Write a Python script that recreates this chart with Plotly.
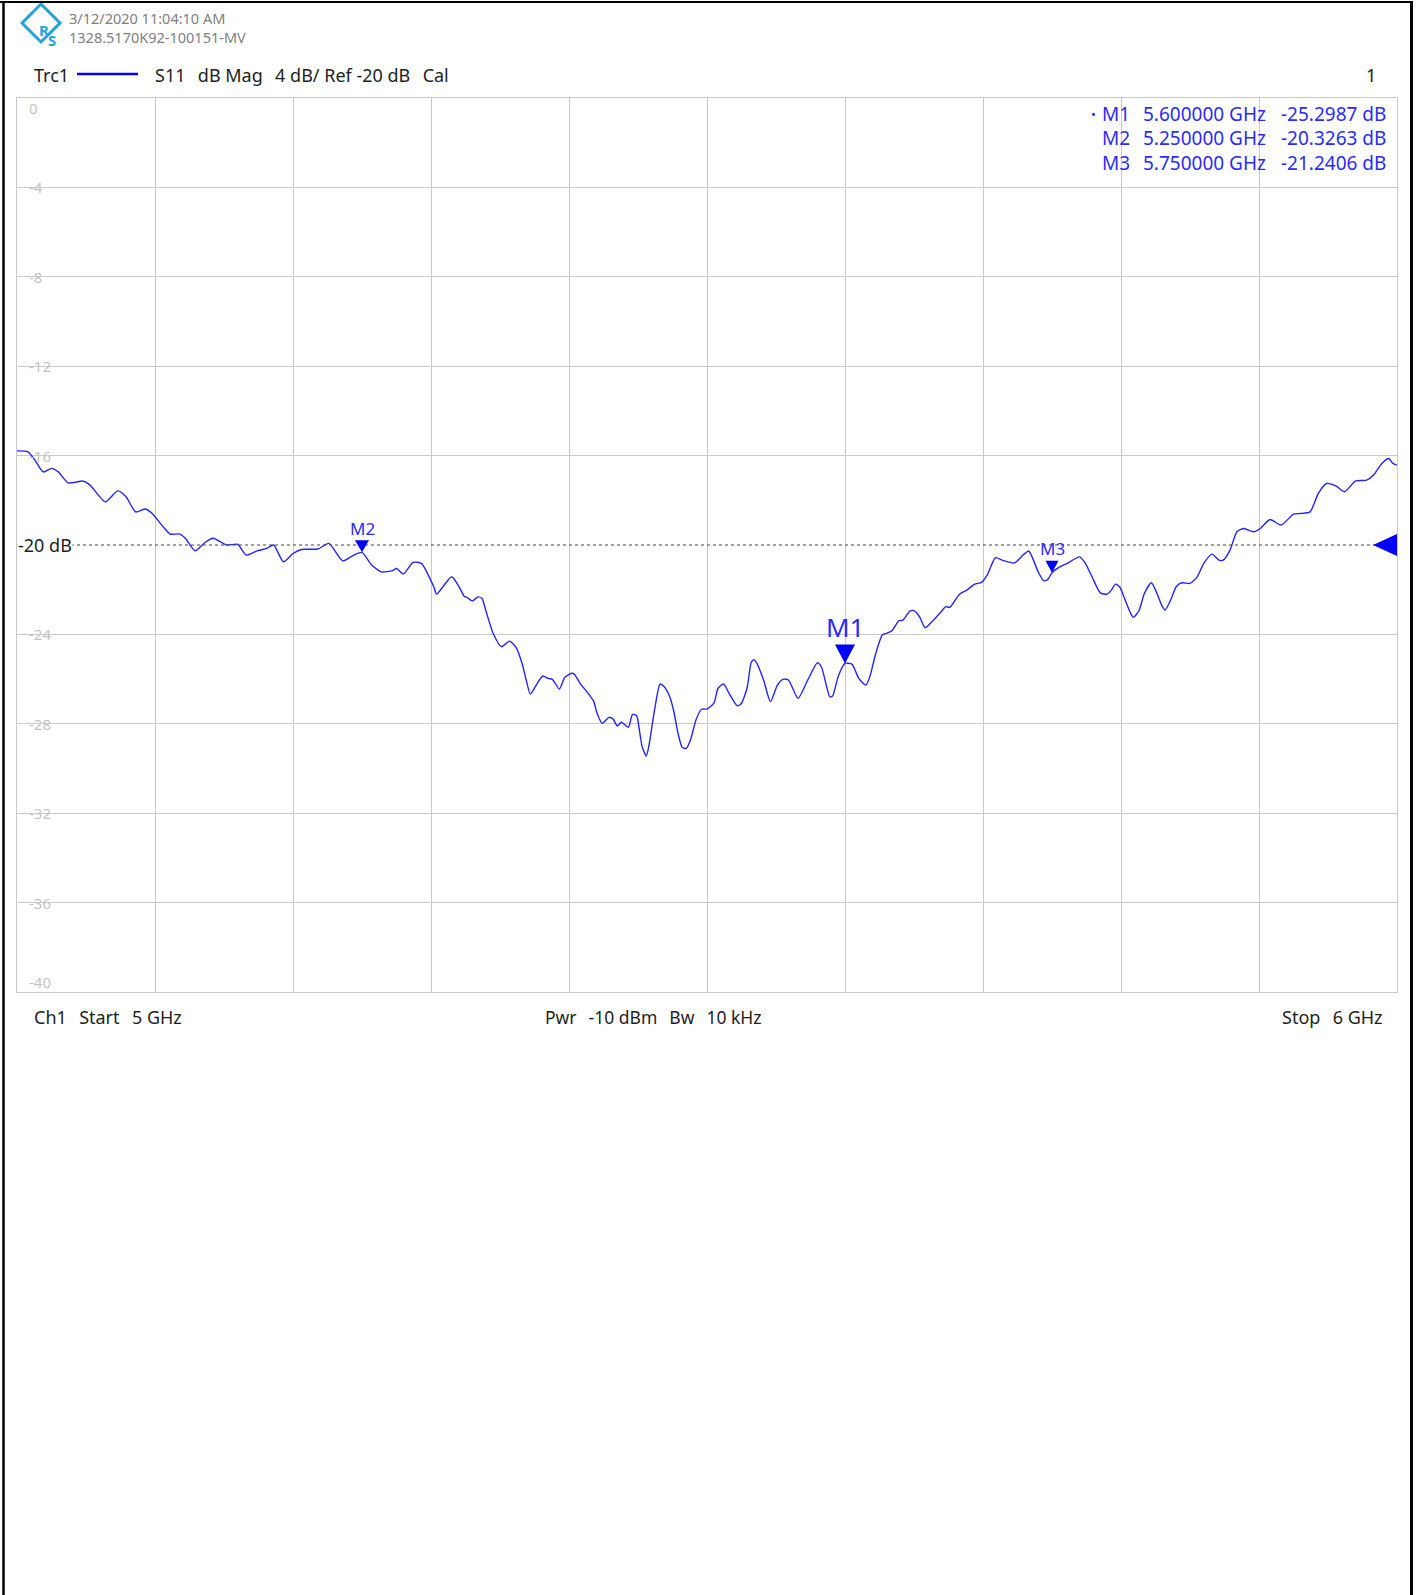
import plotly.graph_objects as go

# S11 trace
freq_ghz = [
    5.000, 5.008, 5.013, 5.019, 5.025, 5.030, 5.037, 5.048, 5.053, 5.064,
    5.073, 5.079, 5.086, 5.093, 5.098, 5.106, 5.111, 5.118, 5.122, 5.129,
    5.136, 5.142, 5.152, 5.160, 5.166, 5.174, 5.181, 5.186, 5.193, 5.200,
    5.206, 5.218, 5.226, 5.236, 5.244, 5.250, 5.257, 5.264, 5.272, 5.275,
    5.280, 5.287, 5.293, 5.302, 5.304, 5.315, 5.321, 5.324, 5.326, 5.330,
    5.334, 5.337, 5.340, 5.345, 5.351, 5.357, 5.362, 5.366, 5.369, 5.372,
    5.377, 5.381, 5.385, 5.388, 5.393, 5.397, 5.402, 5.404, 5.408, 5.413,
    5.418, 5.420, 5.424, 5.429, 5.432, 5.435, 5.438, 5.443, 5.446, 5.449,
    5.451, 5.453, 5.456, 5.458, 5.462, 5.466, 5.469, 5.473, 5.476, 5.479,
    5.482, 5.485, 5.488, 5.492, 5.496, 5.500, 5.505, 5.508, 5.512, 5.516,
    5.522, 5.525, 5.529, 5.531, 5.532, 5.534, 5.536, 5.541, 5.546, 5.551,
    5.555, 5.559, 5.566, 5.573, 5.580, 5.583, 5.589, 5.591, 5.595, 5.600,
    5.605, 5.610, 5.615, 5.618, 5.622, 5.627, 5.630, 5.634, 5.639, 5.642,
    5.647, 5.650, 5.654, 5.658, 5.663, 5.670, 5.673, 5.676, 5.683, 5.688,
    5.694, 5.699, 5.703, 5.709, 5.714, 5.723, 5.729, 5.733, 5.735, 5.740,
    5.744, 5.747, 5.750, 5.756, 5.761, 5.770, 5.774, 5.779, 5.785, 5.790,
    5.793, 5.796, 5.799, 5.803, 5.807, 5.809, 5.813, 5.817, 5.822, 5.826,
    5.830, 5.832, 5.836, 5.840, 5.844, 5.850, 5.855, 5.860, 5.866, 5.871,
    5.874, 5.879, 5.884, 5.889, 5.896, 5.901, 5.908, 5.916, 5.925, 5.930,
    5.937, 5.943, 5.949, 5.956, 5.962, 5.970, 5.978, 5.983, 5.989, 5.994,
    5.997, 6.000,
]
s11_db = [
    -15.79, -15.83, -16.20, -16.73, -16.57, -16.73, -17.22, -17.14, -17.32, -18.07,
    -17.58, -17.84, -18.52, -18.39, -18.59, -19.19, -19.51, -19.51, -19.70, -20.26,
    -19.90, -19.70, -20.00, -19.97, -20.45, -20.26, -20.15, -20.00, -20.75, -20.38,
    -20.20, -20.18, -19.93, -20.71, -20.45, -20.33, -20.90, -21.20, -21.15, -21.05,
    -21.30, -20.78, -20.82, -21.87, -22.20, -21.42, -21.94, -22.29, -22.34, -22.51,
    -22.32, -22.39, -22.99, -23.95, -24.55, -24.30, -24.62, -25.30, -26.04, -26.67,
    -26.19, -25.86, -25.97, -26.01, -26.44, -25.92, -25.74, -25.79, -26.19, -26.57,
    -27.01, -27.46, -27.98, -27.71, -27.79, -28.10, -27.93, -28.16, -27.58, -27.64,
    -28.28, -29.02, -29.44, -28.95, -27.38, -26.22, -26.34, -26.79, -27.46, -28.43,
    -29.05, -29.10, -28.73, -27.83, -27.35, -27.34, -27.08, -26.41, -26.22, -26.64,
    -27.20, -27.08, -26.41, -25.59, -25.25, -25.13, -25.27, -26.04, -27.01, -26.27,
    -26.01, -26.04, -26.86, -26.04, -25.27, -25.47, -26.79, -26.76, -25.89, -25.30,
    -25.33, -25.97, -26.27, -25.89, -24.92, -24.03, -23.95, -23.84, -23.39, -23.36,
    -22.96, -22.94, -23.21, -23.70, -23.43, -22.96, -22.76, -22.79, -22.20, -22.03,
    -21.75, -21.67, -21.35, -20.57, -20.68, -20.80, -20.45, -20.27, -20.45, -21.20,
    -21.60, -21.54, -21.24, -20.97, -20.82, -20.53, -20.80, -21.42, -22.14, -22.20,
    -22.02, -21.75, -21.87, -22.46, -23.06, -23.24, -22.94, -22.16, -21.69, -22.16,
    -22.76, -22.91, -22.46, -21.87, -21.69, -21.72, -21.45, -20.82, -20.41, -20.68,
    -20.68, -20.23, -19.41, -19.26, -19.41, -19.26, -18.86, -19.11, -18.62, -18.59,
    -18.52, -17.69, -17.25, -17.37, -17.62, -17.13, -17.10, -16.87, -16.35, -16.13,
    -16.35, -16.43,
]

marker_names = ["M1", "M2", "M3"]
marker_freq = [5.60, 5.25, 5.75]
marker_db = [-25.2987, -20.3263, -21.2406]

y_ticks = [0, -4, -8, -12, -16, -20, -24, -28, -32, -36, -40]
ref_level = -20
f_start, f_stop = 5.0, 6.0

# page geometry (pixels) -> paper coords
W, H = 1421, 1595
ML, MR, MT, MB = 17, 24, 98, 603


def px(x):
    return (x - ML) / (W - ML - MR)


def py(y):
    return (H - MB - y) / (H - MT - MB)


FONT = "Noto Sans"
BLUE = "#2424ff"
TXT_BLUE = "#2b2bff"
DARK = "#1e1e1e"
GRID = "#c9c9c9"
RS_CYAN = "#23a3dc"

fig = go.Figure()
fig.add_trace(go.Scatter(
    x=freq_ghz, y=s11_db, mode="lines",
    line=dict(color=BLUE, width=1.4, shape="spline", smoothing=0.6),
    hoverinfo="skip", showlegend=False,
))

shapes = []
annotations = []

# reference line
shapes.append(dict(type="line", xref="x", yref="y", x0=f_start, x1=f_stop,
                   y0=ref_level, y1=ref_level,
                   line=dict(color="#444444", width=1, dash="dot")))
annotations.append(dict(xref="paper", yref="y", x=0, y=ref_level, text="-20 dB",
                        showarrow=False, xanchor="left", yanchor="middle",
                        bgcolor="white", borderpad=0,
                        font=dict(family=FONT, size=18, color=DARK)))
# reference arrow at the right edge
shapes.append(dict(type="path", xref="x", yref="y", xsizemode="pixel", ysizemode="pixel",
                   xanchor=f_stop, yanchor=ref_level,
                   path="M 0 11 L 0 -11 L -24 0 Z",
                   fillcolor="#0000ff", line=dict(width=0)))

# y tick labels drawn inside the grid
TICK_FONT = dict(family=FONT, size=15, color="#c4c4c4")
for v in y_ticks:
    if v == ref_level:
        continue
    lab = str(v)
    if v == y_ticks[0]:
        annotations.append(dict(xref="paper", yref="y", x=px(27), y=v, text=lab,
                                showarrow=False, xanchor="left", yanchor="top", yshift=2,
                                font=TICK_FONT))
    elif v == y_ticks[-1]:
        annotations.append(dict(xref="paper", yref="y", x=px(27), y=v, text=lab,
                                showarrow=False, xanchor="left", yanchor="bottom", yshift=-2,
                                font=TICK_FONT))
    else:
        wpx = 8 + 8 * len(lab)
        shapes.append(dict(type="rect", xref="paper", yref="y", xsizemode="pixel",
                           ysizemode="pixel", xanchor=px(27), yanchor=v,
                           x0=0, x1=wpx, y0=-6, y1=6, layer="between",
                           fillcolor="white", line=dict(width=0)))
        annotations.append(dict(xref="paper", yref="y", x=px(27), y=v, text=lab,
                                showarrow=False, xanchor="left", yanchor="middle",
                                font=TICK_FONT))

# marker triangles and labels: half width, height, label size, label shift
tri = {"M1": (10, 19, 26, 16), "M2": (7, 12, 17, 10), "M3": (6.5, 12, 17, 11)}
for name, f, v in zip(marker_names, marker_freq, marker_db):
    hw, ht, fs, ys = tri[name]
    shapes.append(dict(type="path", xref="x", yref="y", xsizemode="pixel", ysizemode="pixel",
                       xanchor=f, yanchor=v,
                       path=f"M {-hw} {ht} L {hw} {ht} L 0 0 Z",
                       fillcolor="#0000ff", line=dict(width=0)))
    annotations.append(dict(xref="x", yref="y", x=f, y=v, text=name, showarrow=False,
                            xanchor="center", yanchor="bottom", yshift=ys,
                            font=dict(family=FONT, size=fs, color=TXT_BLUE)))

# marker readout table (top right)
row_y = [114, 138, 163]
TABLE_FONT = dict(family=FONT, size=19, color=TXT_BLUE)
for i, (name, f, v) in enumerate(zip(marker_names, marker_freq, marker_db)):
    yy = py(row_y[i])
    if i == 0:
        annotations.append(dict(xref="paper", yref="paper", x=px(1093), y=yy, text="•",
                                showarrow=False, xanchor="center", yanchor="middle",
                                font=dict(family=FONT, size=13, color=TXT_BLUE)))
    annotations.append(dict(xref="paper", yref="paper", x=px(1100), y=yy, text=name,
                            showarrow=False, xanchor="left", yanchor="middle",
                            font=TABLE_FONT))
    annotations.append(dict(xref="paper", yref="paper", x=px(1268), y=yy,
                            text=f"{f:.6f} GHz".replace(" ", "\u00a0"),
                            showarrow=False, xanchor="right", yanchor="middle",
                            font=TABLE_FONT))
    annotations.append(dict(xref="paper", yref="paper", x=px(1388), y=yy,
                            text=f"{v:.4f} dB".replace(" ", "\u00a0"),
                            showarrow=False, xanchor="right", yanchor="middle",
                            font=TABLE_FONT))

GAP = "\u00a0\u00a0\u2009"


def txt(x, y, s, size=18, color=DARK, anchor="left"):
    annotations.append(dict(xref="paper", yref="paper", x=px(x), y=py(y),
                            text=s.replace("  ", GAP), showarrow=False,
                            xanchor=anchor, yanchor="middle",
                            font=dict(family=FONT, size=size, color=color)))


# header
txt(67, 18, "3/12/2020 11:04:10 AM", size=14.5, color="#808080")
txt(67, 37, "1328.5170K92-100151-MV", size=14.5, color="#808080")
txt(32, 75, "Trc1")
shapes.append(dict(type="line", xref="paper", yref="paper", x0=px(77), x1=px(138),
                   y0=py(74), y1=py(74), line=dict(color="#0000ff", width=2.5)))
txt(153, 75, "S11  dB Mag  4 dB/ Ref -20 dB  Cal")
txt(1378, 75, "1", anchor="right")

# footer
txt(32, 1017, "Ch1  Start  5 GHz")
txt(543, 1017, "Pwr  -10 dBm  Bw  10 kHz", size=17.5)
txt(1385, 1017, "Stop  6 GHz", anchor="right")

# R&S logo
shapes.append(dict(type="path", xref="paper", yref="paper", xsizemode="pixel",
                   ysizemode="pixel", xanchor=px(41), yanchor=py(23),
                   path="M -19 0 L 0 19 L 19 0 L 0 -19 Z",
                   line=dict(color=RS_CYAN, width=3), fillcolor="rgba(0,0,0,0)"))
annotations.append(dict(xref="paper", yref="paper", x=px(37), y=py(18), text="<b>R</b>",
                        showarrow=False, font=dict(family=FONT, size=15, color=RS_CYAN)))
annotations.append(dict(xref="paper", yref="paper", x=px(46), y=py(28), text="<b>S</b>",
                        showarrow=False, font=dict(family=FONT, size=15, color=RS_CYAN)))

# page frame
shapes.append(dict(type="line", xref="paper", yref="paper", x0=px(0), x1=px(1413),
                   y0=py(2), y1=py(2), line=dict(color="black", width=2)))
shapes.append(dict(type="line", xref="paper", yref="paper", x0=px(3.5), x1=px(3.5),
                   y0=py(1), y1=py(H), line=dict(color="black", width=2.5)))
shapes.append(dict(type="line", xref="paper", yref="paper", x0=px(1411.5), x1=px(1411.5),
                   y0=py(1), y1=py(H), line=dict(color="black", width=3)))

fig.update_layout(
    width=W, height=H,
    margin=dict(l=ML, r=MR, t=MT, b=MB),
    paper_bgcolor="white", plot_bgcolor="white",
    showlegend=False,
    shapes=shapes, annotations=annotations,
    font=dict(family=FONT),
)
fig.update_xaxes(range=[f_start, f_stop], dtick=0.1, tick0=f_start,
                 showgrid=True, gridcolor=GRID, gridwidth=1,
                 showticklabels=False, ticks="", zeroline=False,
                 showline=True, linecolor=GRID, linewidth=1, mirror=True)
fig.update_yaxes(range=[y_ticks[-1], y_ticks[0]],
                 tickvals=[v for v in y_ticks if v != ref_level],
                 showgrid=True, gridcolor=GRID, gridwidth=1,
                 showticklabels=False, ticks="", zeroline=False,
                 showline=True, linecolor=GRID, linewidth=1, mirror=True)

fig.write_html("out.html", config={"displayModeBar": False},
               post_script="document.body.style.margin='0';")
